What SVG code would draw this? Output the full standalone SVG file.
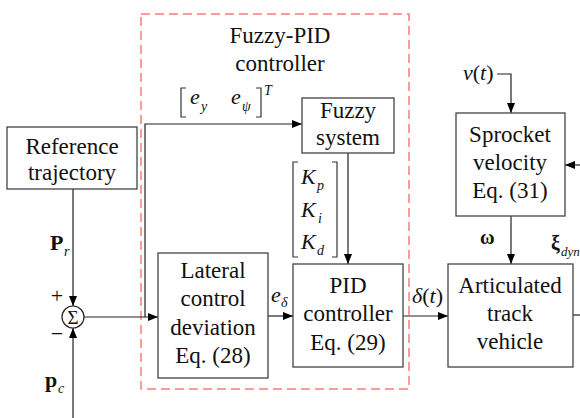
<svg xmlns="http://www.w3.org/2000/svg" width="580" height="418" viewBox="0 0 580 418">
  <defs>
    <marker id="arrow" viewBox="0 0 10 8" refX="10" refY="4" markerWidth="10" markerHeight="8" markerUnits="userSpaceOnUse" orient="auto">
      <path d="M0,0 L10,4 L0,8 Z" fill="#000"/>
    </marker>
    <style>
      text { font-family: "Liberation Serif", "Times New Roman", serif; fill: #111; }
      .box { fill: #fff; stroke: #444; stroke-width: 1.3; }
      .wire { fill: none; stroke: #222; stroke-width: 1.2; }
      .bracket { fill: none; stroke: #333; stroke-width: 1.2; }
      .lbl { font-size: 23px; text-anchor: middle; }
      .math { font-size: 22px; font-style: italic; }
      .sub { font-size: 14px; font-style: italic; }
      .bold { font-size: 22px; font-weight: bold; }
      .frame { fill: none; stroke: #ff7b7b; stroke-width: 1.5; stroke-dasharray: 9 5; }
    </style>
  </defs>

  <!-- Fuzzy-PID controller boundary -->
  <rect class="frame" x="141" y="14" width="268" height="375"/>
  <text class="lbl" x="280" y="43">Fuzzy-PID</text>
  <text class="lbl" x="280" y="71">controller</text>

  <!-- connectors -->
  <g id="connectors">
    <line class="wire" x1="73" y1="189" x2="73" y2="306" marker-end="url(#arrow)"/>
    <line class="wire" x1="73" y1="418" x2="73" y2="328" marker-end="url(#arrow)"/>
    <line class="wire" x1="84" y1="317" x2="158" y2="317" marker-end="url(#arrow)"/>
    <polyline class="wire" points="145,317 145,124 302,124" marker-end="url(#arrow)"/>
    <line class="wire" x1="348" y1="153" x2="348" y2="264" marker-end="url(#arrow)"/>
    <line class="wire" x1="268" y1="316" x2="293" y2="316" marker-end="url(#arrow)"/>
    <line class="wire" x1="403" y1="316" x2="448" y2="316" marker-end="url(#arrow)"/>
    <polyline class="wire" points="497,74 511,74 511,113" marker-end="url(#arrow)"/>
    <line class="wire" x1="511" y1="216" x2="511" y2="264" marker-end="url(#arrow)"/>
    <line class="wire" x1="580" y1="165" x2="565" y2="165" marker-end="url(#arrow)"/>
    <line class="wire" x1="573" y1="315" x2="580" y2="315"/>
  </g>

  <!-- signal labels -->
  <g id="signal-labels">
    <text class="bold" x="50" y="250">P</text>
    <text class="sub" x="64" y="256">r</text>
    <text class="lbl" x="57" y="303" style="font-size:22px">+</text>
    <text class="lbl" x="57" y="341" style="font-size:22px">−</text>
    <text class="bold" x="45" y="387">p</text>
    <text class="sub" x="58" y="393">c</text>

    <!-- [e_y e_psi]^T -->
    <path class="bracket" d="M186,88 H181 V117 H186"/>
    <path class="bracket" d="M256,88 H261 V117 H256"/>
    <text class="math" x="190" y="104">e</text>
    <text class="sub" x="201" y="111">y</text>
    <text class="math" x="231" y="104">e</text>
    <text class="sub" x="242" y="111">ψ</text>
    <text class="sub" x="264" y="95">T</text>

    <!-- gain vector -->
    <path class="bracket" d="M298,162 H293 V257 H298"/>
    <path class="bracket" d="M332,162 H337 V257 H332"/>
    <text class="math" x="301" y="184">K</text>
    <text class="sub" x="317" y="190">p</text>
    <text class="math" x="301" y="217">K</text>
    <text class="sub" x="318" y="223">i</text>
    <text class="math" x="301" y="249">K</text>
    <text class="sub" x="317" y="255">d</text>

    <text class="math" x="271" y="302">e</text>
    <text class="sub" x="281" y="307">δ</text>

    <text class="math" x="412" y="303">δ<tspan font-style="normal">(</tspan>t<tspan font-style="normal">)</tspan></text>
    <text class="math" x="463" y="80">v<tspan font-style="normal">(</tspan>t<tspan font-style="normal">)</tspan></text>
    <text class="bold" x="480" y="244" style="font-size:20px">ω</text>
    <text class="bold" x="551" y="250" style="font-size:20px">ξ</text>
    <text class="sub" x="561" y="256" style="font-size:13px">dyn</text>
  </g>

  <!-- summing junction -->
  <g id="sum">
    <circle cx="73" cy="317" r="11" fill="#fff" stroke="#222" stroke-width="1.2"/>
    <text class="lbl" x="73" y="324" style="font-size:19px">Σ</text>
  </g>

  <g id="reference-trajectory">
    <rect class="box" x="7" y="127" width="130" height="62"/>
    <text class="lbl" x="72" y="154">Reference</text>
    <text class="lbl" x="72" y="180">trajectory</text>
  </g>

  <g id="fuzzy-system">
    <rect class="box" x="302" y="98" width="92" height="55"/>
    <text class="lbl" x="348" y="118">Fuzzy</text>
    <text class="lbl" x="348" y="145">system</text>
  </g>

  <g id="lateral-deviation">
    <rect class="box" x="158" y="253" width="110" height="125"/>
    <text class="lbl" x="213" y="278">Lateral</text>
    <text class="lbl" x="213" y="306">control</text>
    <text class="lbl" x="213" y="335">deviation</text>
    <text class="lbl" x="213" y="363">Eq. (28)</text>
  </g>

  <g id="pid-controller">
    <rect class="box" x="293" y="264" width="110" height="103"/>
    <text class="lbl" x="348" y="293">PID</text>
    <text class="lbl" x="348" y="321">controller</text>
    <text class="lbl" x="348" y="350">Eq. (29)</text>
  </g>

  <g id="sprocket-velocity">
    <rect class="box" x="456" y="113" width="109" height="103"/>
    <text class="lbl" x="510" y="142">Sprocket</text>
    <text class="lbl" x="510" y="170">velocity</text>
    <text class="lbl" x="510" y="198">Eq. (31)</text>
  </g>

  <g id="articulated-vehicle">
    <rect class="box" x="448" y="264" width="125" height="103"/>
    <text class="lbl" x="510" y="293">Articulated</text>
    <text class="lbl" x="510" y="321">track</text>
    <text class="lbl" x="510" y="349">vehicle</text>
  </g>
</svg>
